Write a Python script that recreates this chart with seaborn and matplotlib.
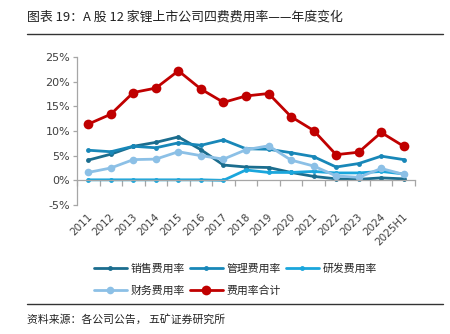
import matplotlib
matplotlib.use("Agg")
import matplotlib.pyplot as plt
import matplotlib.transforms as mtransforms
from matplotlib.lines import Line2D
from matplotlib.ticker import FixedLocator, FuncFormatter, NullFormatter
import seaborn as sns
import pandas as pd

years = ["2011", "2012", "2013", "2014", "2015", "2016", "2017", "2018",
         "2019", "2020", "2021", "2022", "2023", "2024", "2025H1"]
sales = [4.1, 5.3, 6.9, 7.7, 8.8, 6.2, 3.1, 2.7, 2.6, 1.6, 0.8, 0.3, 0.2, 0.5, 0.3]
admin = [6.1, 5.8, 6.9, 6.6, 7.6, 7.1, 8.2, 6.4, 6.3, 5.6, 4.8, 2.7, 3.4, 4.9, 4.2]
rnd = [0.1, 0.1, 0.1, 0.1, 0.1, 0.1, 0.0, 2.1, 1.6, 1.6, 1.8, 1.5, 1.5, 1.8, 1.3]
finance = [1.6, 2.5, 4.2, 4.3, 5.8, 5.0, 4.3, 6.2, 7.0, 4.1, 2.9, 0.9, 0.6, 2.4, 1.2]
total = [11.4, 13.4, 17.8, 18.7, 22.2, 18.5, 15.8, 17.1, 17.6, 12.9, 10.1, 5.2, 5.7, 9.7, 6.9]
y_ticks = [-5, 0, 5, 10, 15, 20, 25]

series = [
    ("销售费用率", sales, "#1b6d8e", 3.5),
    ("管理费用率", admin, "#1887b8", 3.5),
    ("研发费用率", rnd, "#1aa6dc", 3.5),
    ("财务费用率", finance, "#8cc0e6", 5.5),
    ("费用率合计", total, "#c00000", 7),
]

sns.set_theme(style="white")
plt.rcParams['font.family'] = ['Noto Sans CJK SC', 'DejaVu Sans']

fig = plt.figure(figsize=(4.5, 3.34), dpi=100)
ax = fig.add_axes([77/450, 1-205/334, (415-77)/450, (205-57)/334])

idx = list(range(len(years)))
for name, vals, col, ms in series:
    df = pd.DataFrame({"x": idx, "y": vals})
    sns.lineplot(data=df, x="x", y="y", ax=ax, color=col, linewidth=2,
                 marker="o", markersize=ms, markeredgewidth=0, label=name)

ax.set_xlim(-0.5, len(years)-0.5)
ax.set_ylim(-5, 25)
ax.set_xlabel("")
ax.set_ylabel("")

for s in ["top", "right"]:
    ax.spines[s].set_visible(False)
for s in ["left", "bottom"]:
    ax.spines[s].set_color("#a6a6a6")
    ax.spines[s].set_linewidth(0.9)
ax.spines["bottom"].set_position(("data", 0))

ax.yaxis.set_major_locator(FixedLocator(y_ticks))
ax.yaxis.set_major_formatter(FuncFormatter(lambda v, p: f"{v:.0f}%"))
ax.tick_params(axis="y", which="major", left=True, length=3, width=0.9,
               color="#a6a6a6", labelsize=8, labelcolor="#404040", pad=2)
ax.set_xticks(idx)
ax.xaxis.set_major_formatter(NullFormatter())
ax.xaxis.set_minor_locator(FixedLocator([i - 0.5 for i in range(len(years)+1)]))
ax.tick_params(axis="x", which="major", length=0)
ax.tick_params(axis="x", which="minor", bottom=True, length=4, width=0.9,
               color="#a6a6a6", direction="out")
for label in ax.get_yticklabels():
    label.set_family("DejaVu Sans")

trans = mtransforms.blended_transform_factory(ax.transData, ax.transAxes)
for i, yr in enumerate(years):
    ax.text(i - 0.05, -0.045, yr, transform=trans, rotation=45,
            rotation_mode="anchor", ha="right", va="top",
            fontsize=7.5, color="#404040", family="DejaVu Sans")

handles, labels = ax.get_legend_handles_labels()
if ax.legend_:
    ax.legend_.remove()
order = [0, 3, 1, 4, 2]
fig.legend([handles[i] for i in order], [labels[i] for i in order],
           loc="upper left", bbox_to_anchor=(94/450, 1-263/334), ncol=3,
           frameon=False, fontsize=7.8, handlelength=3.0, handletextpad=0.4,
           columnspacing=0.45, labelspacing=1.1, borderaxespad=0, borderpad=0)

fig.text(27/450, 1-17/334, "图表 19：A 股 12 家锂上市公司四费费用率——年度变化",
         fontsize=9.3, color="#222222", va="center", ha="left")
fig.add_artist(Line2D([27/450, 443/450], [1-34/334]*2, color="#333333", lw=1))
fig.add_artist(Line2D([27/450, 443/450], [1-304/334]*2, color="#333333", lw=1))
fig.text(27/450, 1-319/334, "资料来源：各公司公告， 五矿证券研究所",
         fontsize=7.8, color="#222222", va="center", ha="left")

fig.savefig("out.png", dpi=100)
